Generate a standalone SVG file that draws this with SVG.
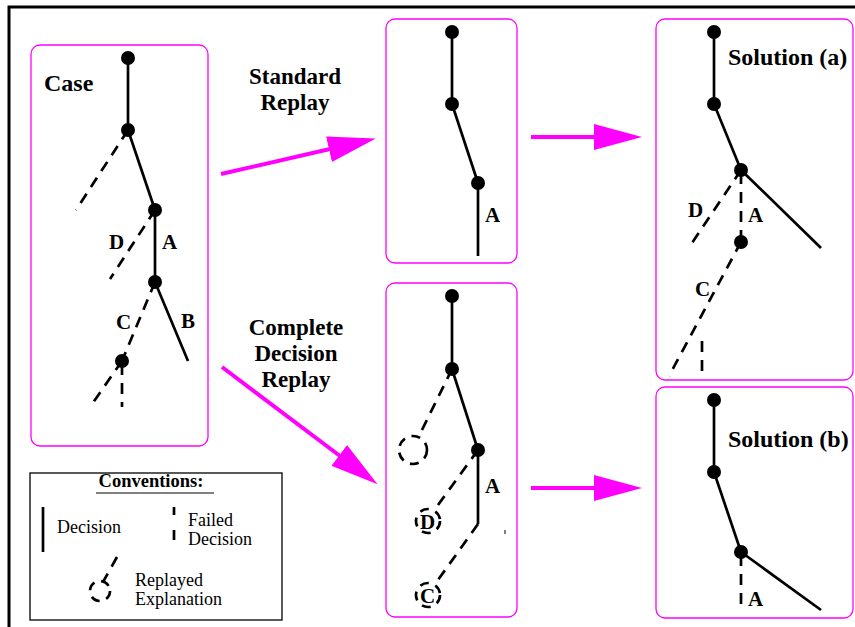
<svg xmlns="http://www.w3.org/2000/svg" width="855" height="627" viewBox="0 0 855 627">
<style>
.box{fill:#fff;stroke:#ff00ff;stroke-width:1.3}
.s{stroke:#000;stroke-width:2.7;fill:none}
.d{stroke:#000;stroke-width:2.7;fill:none;stroke-dasharray:11 8}
.dc{stroke:#000;stroke-width:2.7;fill:none;stroke-dasharray:9 7}
.n{fill:#000}
.lb{font-family:"Liberation Serif","Times New Roman",Times,"DejaVu Serif",serif;font-weight:bold;font-size:21px;fill:#000}
.big{font-size:24px}
.tt{font-family:"Liberation Serif","Times New Roman",Times,"DejaVu Serif",serif;font-weight:bold;font-size:23px;fill:#000;text-anchor:middle}
.rg{font-family:"Liberation Serif","Times New Roman",Times,"DejaVu Serif",serif;font-size:18px;fill:#000}
.cv{font-family:"Liberation Serif","Times New Roman",Times,"DejaVu Serif",serif;font-weight:bold;font-size:18.5px;fill:#000;text-anchor:middle}
.arr{stroke:#ff00ff;stroke-width:4;fill:none}
</style>
<defs>
<marker id="ah" viewBox="0 0 48 26" refX="1" refY="13" markerWidth="48" markerHeight="26" markerUnits="userSpaceOnUse" orient="auto">
<polygon points="0,0 48,13 0,26" fill="#ff00ff"/>
</marker>
</defs>
<rect width="855" height="627" fill="#fff"/>
<path d="M9,627 V7 H855" stroke="#000" stroke-width="3" fill="none"/>

<g id="case">
<rect class="box" x="31" y="45" width="177" height="401" rx="9"/>
<text class="lb big" x="44" y="91">Case</text>
<line class="s" x1="128" y1="58" x2="128" y2="130"/>
<line class="s" x1="128" y1="130" x2="155" y2="210"/>
<line class="d" x1="128" y1="130" x2="76" y2="210"/>
<line class="s" x1="155" y1="210" x2="155" y2="282"/>
<line class="d" x1="155" y1="210" x2="110" y2="279"/>
<line class="s" x1="155" y1="282" x2="188" y2="361"/>
<line class="d" x1="155" y1="282" x2="122" y2="361"/>
<line class="d" x1="122" y1="361" x2="90" y2="407"/>
<line class="d" x1="122" y1="364" x2="122" y2="407"/>
<circle class="n" cx="128" cy="58" r="7"/>
<circle class="n" cx="128" cy="130" r="7"/>
<circle class="n" cx="155" cy="210" r="7"/>
<circle class="n" cx="155" cy="282" r="7"/>
<circle class="n" cx="122" cy="361" r="7"/>
<text class="lb" x="109" y="249">D</text>
<text class="lb" x="162" y="249">A</text>
<text class="lb" x="116" y="329">C</text>
<text class="lb" x="181" y="328">B</text>
</g>

<g id="conventions">
<rect x="30" y="473" width="252" height="147" fill="#fff" stroke="#000" stroke-width="1.3"/>
<text class="cv" x="151" y="487">Conventions:</text>
<line x1="96" y1="493" x2="214" y2="493" stroke="#000" stroke-width="1"/>
<line class="s" x1="43" y1="507" x2="43" y2="552"/>
<text class="rg" x="57" y="533">Decision</text>
<line class="s" x1="174" y1="507" x2="174" y2="515"/>
<line class="s" x1="174" y1="530" x2="174" y2="540"/>
<text class="rg" x="188" y="526">Failed</text>
<text class="rg" x="188" y="545">Decision</text>
<line class="d" x1="117" y1="557" x2="103" y2="582"/>
<circle class="dc" cx="100" cy="591" r="10"/>
<text class="rg" x="135" y="586">Replayed</text>
<text class="rg" x="135" y="605">Explanation</text>
</g>

<g id="standard">
<rect class="box" x="386" y="19" width="131" height="244" rx="9"/>
<line class="s" x1="452" y1="32" x2="452" y2="104"/>
<line class="s" x1="452" y1="104" x2="478" y2="183"/>
<line class="s" x1="478" y1="183" x2="478" y2="256"/>
<circle class="n" cx="452" cy="32" r="7"/>
<circle class="n" cx="452" cy="104" r="7"/>
<circle class="n" cx="478" cy="183" r="7"/>
<text class="lb" x="485" y="222">A</text>
</g>

<g id="complete">
<rect class="box" x="386" y="283" width="131" height="334" rx="9"/>
<line class="s" x1="452" y1="296" x2="452" y2="369"/>
<line class="s" x1="452" y1="369" x2="478" y2="450"/>
<line class="s" x1="478" y1="450" x2="478" y2="524"/>
<line class="d" x1="452" y1="369" x2="421" y2="432"/>
<circle class="dc" cx="413" cy="450" r="14"/>
<line class="d" x1="478" y1="450" x2="438" y2="505"/>
<circle class="dc" cx="428" cy="521" r="12"/>
<line class="d" x1="478" y1="524" x2="438" y2="580"/>
<circle class="dc" cx="428" cy="595" r="12"/>
<line x1="505" y1="530" x2="505" y2="534" stroke="#000" stroke-width="1"/>
<circle class="n" cx="452" cy="296" r="7"/>
<circle class="n" cx="452" cy="369" r="7"/>
<circle class="n" cx="478" cy="450" r="7"/>
<text class="lb" x="485" y="493">A</text>
<text class="lb" x="420" y="529">D</text>
<text class="lb" x="420" y="603">C</text>
</g>

<g id="solution-a">
<rect class="box" x="656" y="19" width="197" height="361" rx="9"/>
<text class="lb big" x="728" y="65">Solution (a)</text>
<line class="s" x1="714" y1="32" x2="714" y2="104"/>
<line class="s" x1="714" y1="104" x2="741" y2="170"/>
<line class="s" x1="741" y1="170" x2="821" y2="248"/>
<line class="d" x1="741" y1="170" x2="690" y2="246"/>
<line class="d" x1="741" y1="173" x2="741" y2="242"/>
<line class="d" x1="741" y1="242" x2="669" y2="376"/>
<line class="d" x1="702" y1="341" x2="702" y2="376"/>
<circle class="n" cx="714" cy="32" r="7"/>
<circle class="n" cx="714" cy="104" r="7"/>
<circle class="n" cx="741" cy="170" r="7"/>
<circle class="n" cx="741" cy="242" r="7"/>
<text class="lb" x="688" y="217">D</text>
<text class="lb" x="748" y="222">A</text>
<text class="lb" x="695" y="296">C</text>
</g>

<g id="solution-b">
<rect class="box" x="656" y="387" width="197" height="231" rx="9"/>
<text class="lb big" x="728" y="447">Solution (b)</text>
<line class="s" x1="714" y1="400" x2="714" y2="472"/>
<line class="s" x1="714" y1="472" x2="741" y2="552"/>
<line class="s" x1="741" y1="552" x2="821" y2="610"/>
<line class="d" x1="741" y1="555" x2="741" y2="612"/>
<circle class="n" cx="714" cy="400" r="7"/>
<circle class="n" cx="714" cy="472" r="7"/>
<circle class="n" cx="741" cy="552" r="7"/>
<text class="lb" x="748" y="606">A</text>
</g>

<g id="labels">
<text class="tt" x="295" y="84">Standard</text>
<text class="tt" x="295" y="110">Replay</text>
<text class="tt" x="296" y="335">Complete</text>
<text class="tt" x="296" y="361">Decision</text>
<text class="tt" x="296" y="387">Replay</text>
</g>

<g id="connectors">
<line class="arr" x1="221" y1="174" x2="330" y2="149" marker-end="url(#ah)"/>
<line class="arr" x1="531" y1="137" x2="595" y2="137" marker-end="url(#ah)"/>
<line class="arr" x1="222" y1="367" x2="340" y2="456" marker-end="url(#ah)"/>
<line class="arr" x1="531" y1="488" x2="595" y2="488" marker-end="url(#ah)"/>
</g>
</svg>
